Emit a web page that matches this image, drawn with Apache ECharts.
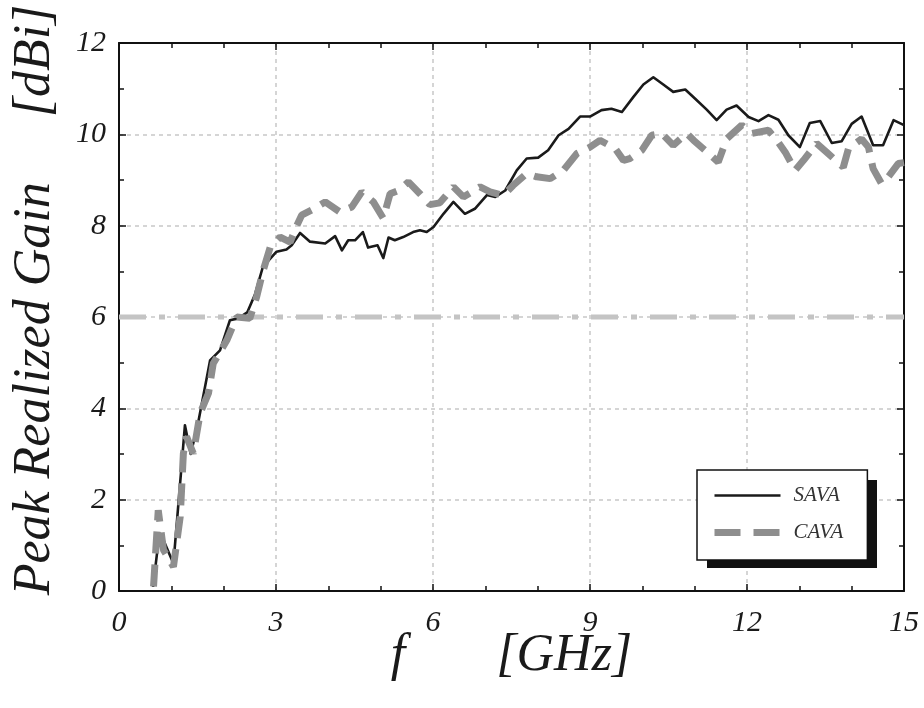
<!DOCTYPE html>
<html>
<head>
<meta charset="utf-8">
<script src="https://cdn.jsdelivr.net/npm/echarts@6/dist/echarts.min.js"></script>
<style>
html,body{margin:0;padding:0;background:#fff;}
#chart{width:924px;height:708px;}
</style>
</head>
<body>
<div id="chart"></div>
<script>
// ---- data ----
var seriesNames = ['SAVA', 'CAVA'];
var savaFreq = [0.65,0.75,0.8,1.04,1.26,1.37,1.51,1.74,1.93,2.12,2.28,2.45,2.6,2.75,2.89,3.01,3.2,3.3,3.46,3.65,3.94,4.13,4.26,4.38,4.51,4.66,4.76,4.94,5.05,5.15,5.27,5.43,5.62,5.75,5.88,6.01,6.2,6.39,6.61,6.8,7.03,7.19,7.38,7.6,7.79,8.01,8.2,8.4,8.59,8.81,9.0,9.22,9.41,9.61,9.83,10.02,10.21,10.4,10.59,10.82,11.01,11.23,11.42,11.61,11.8,12.03,12.22,12.41,12.6,12.79,13.01,13.2,13.4,13.62,13.81,14.0,14.19,14.41,14.6,14.8,15.0];
var savaGain = [0.09,1.05,1.25,0.6,3.63,3.0,3.67,5.05,5.27,5.93,5.97,6.1,6.5,7.1,7.28,7.43,7.48,7.57,7.84,7.65,7.61,7.77,7.46,7.68,7.68,7.86,7.52,7.57,7.29,7.74,7.68,7.75,7.86,7.9,7.86,7.97,8.26,8.52,8.26,8.37,8.67,8.63,8.77,9.21,9.47,9.49,9.65,9.98,10.12,10.39,10.39,10.53,10.56,10.49,10.82,11.09,11.25,11.09,10.93,10.98,10.78,10.54,10.31,10.54,10.63,10.38,10.29,10.42,10.32,9.98,9.72,10.25,10.29,9.81,9.85,10.23,10.39,9.76,9.76,10.31,10.2];
var cavaFreq = [0.66,0.75,0.85,1.04,1.17,1.23,1.29,1.42,1.55,1.71,1.8,2.06,2.25,2.5,2.63,2.75,2.89,3.08,3.27,3.4,3.49,3.68,3.94,4.22,4.45,4.64,4.86,5.05,5.18,5.34,5.53,5.75,5.94,6.13,6.39,6.58,6.9,7.09,7.34,7.53,7.79,7.98,8.24,8.49,8.75,9.0,9.19,9.48,9.64,9.76,9.99,10.18,10.37,10.59,10.85,10.98,11.2,11.45,11.61,11.9,12.09,12.41,12.57,12.73,12.92,13.08,13.33,13.52,13.84,13.94,14.19,14.32,14.41,14.57,14.7,14.89,15.0];
var cavaGain = [0.1,1.77,0.9,0.53,1.63,3.01,3.38,3.01,3.89,4.33,4.98,5.49,6.0,5.97,6.44,7.0,7.53,7.75,7.64,8.01,8.23,8.34,8.52,8.3,8.41,8.74,8.52,8.16,8.7,8.77,8.96,8.7,8.46,8.5,8.85,8.63,8.85,8.74,8.66,8.88,9.14,9.07,9.03,9.21,9.58,9.72,9.87,9.69,9.43,9.47,9.65,9.98,10.02,9.76,10.02,9.87,9.65,9.39,9.9,10.2,10.02,10.09,9.87,9.61,9.21,9.43,9.8,9.61,9.28,9.69,9.9,9.72,9.25,8.92,9.07,9.36,9.38];
var thresholdFreq = [0, 15];
var thresholdGain = [6, 6];
var xTicks = [0, 3, 6, 9, 12, 15];
var yTicks = [0, 2, 4, 6, 8, 10, 12];

function zip(a, b) { return a.map(function (v, i) { return [v, b[i]]; }); }

var serif = '"Liberation Serif", "DejaVu Serif", serif';
var txt = '#1a1a1a';

var chart = echarts.init(document.getElementById('chart'), null, {renderer: 'canvas'});

var gridLine = {show: true, lineStyle: {color: '#c8c8c8', width: 1.5, type: [4, 4]}};
function mainAxis(pos, min, max, interval, minorSplit, name, nameGap, namePad, nameSize, labelMargin) {
  return {
    type: 'value', position: pos, min: min, max: max, interval: interval,
    name: name, nameLocation: 'middle', nameGap: nameGap, nameMoveOverlap: false,
    nameTextStyle: {fontFamily: serif, fontStyle: 'italic', fontSize: nameSize, color: txt, padding: namePad},
    axisLine: {show: true, onZero: false, lineStyle: {color: '#111', width: 2}},
    axisTick: {show: true, inside: true, length: 7, lineStyle: {color: '#111', width: 1.5}},
    minorTick: {show: true, splitNumber: minorSplit, length: 5, lineStyle: {color: '#111', width: 1.5}},
    axisLabel: {show: true, margin: labelMargin, fontFamily: serif, fontStyle: 'italic', fontSize: 30, color: txt},
    splitLine: gridLine
  };
}
function mirrorAxis(pos, min, max, interval, minorSplit) {
  return {
    type: 'value', position: pos, min: min, max: max, interval: interval,
    axisLine: {show: true, onZero: false, lineStyle: {color: '#111', width: 2}},
    axisTick: {show: true, inside: true, length: 7, lineStyle: {color: '#111', width: 1.5}},
    minorTick: {show: true, splitNumber: minorSplit, length: 5, lineStyle: {color: '#111', width: 1.5}},
    axisLabel: {show: false},
    splitLine: {show: false}
  };
}

var xMain = mainAxis('bottom', xTicks[0], xTicks[xTicks.length - 1], 3, 3, 'f       [GHz]', 39, 0, 52, 17);
var yMain = mainAxis('left', yTicks[0], yTicks[yTicks.length - 1], 2, 2, 'Peak Realized Gain     [dBi]', 58, [0, 0, 0, 34], 52, 13);
yMain.nameRotate = 90;

var option = {
  backgroundColor: '#ffffff',
  animation: false,
  grid: {left: 119, right: 20, top: 43, bottom: 117, containLabel: false, outerBoundsMode: 'none'},
  xAxis: [xMain, mirrorAxis('top', 0, 15, 3, 3)],
  yAxis: [yMain, mirrorAxis('right', 0, 12, 2, 2)],
  graphic: [{
    type: 'rect', z: 3, silent: true,
    shape: {x: 707, y: 480, width: 170, height: 88},
    style: {fill: '#111'}
  }],
  legend: {
    z: 5,
    data: [
      {name: seriesNames[0], lineStyle: {color: '#1a1a1a', width: 2.6, type: 'solid'}, itemStyle: {opacity: 0}},
      {name: seriesNames[1], lineStyle: {color: '#8e8e8e', width: 7, type: [26, 13]}, itemStyle: {opacity: 0}}
    ],
    orient: 'vertical',
    left: 697, top: 470,
    itemWidth: 66, itemHeight: 20, itemGap: 16,
    padding: [15, 24, 17, 14],
    backgroundColor: '#ffffff',
    borderColor: '#111', borderWidth: 1.5, borderRadius: 0,
    itemStyle: {opacity: 0},
    textStyle: {fontFamily: serif, fontStyle: 'italic', fontSize: 21, lineHeight: 20, color: '#333', padding: [0, 0, 0, 8]}
  },
  series: [
    {
      name: 'threshold', type: 'line', data: zip(thresholdFreq, thresholdGain),
      showSymbol: false, symbol: 'none', silent: true, z: 1,
      lineStyle: {color: '#c4c4c4', width: 5, type: [27, 13, 6, 13], cap: 'butt'}
    },
    {
      name: seriesNames[0], type: 'line', data: zip(savaFreq, savaGain),
      showSymbol: false, symbol: 'none', z: 2,
      lineStyle: {color: '#1a1a1a', width: 2.6, join: 'round'},
      itemStyle: {color: '#1a1a1a'}
    },
    {
      name: seriesNames[1], type: 'line', data: zip(cavaFreq, cavaGain),
      showSymbol: false, symbol: 'none', z: 3,
      lineStyle: {color: '#8e8e8e', width: 7, type: [22, 11], cap: 'butt'},
      itemStyle: {color: '#8e8e8e'}
    }
  ]
};
chart.setOption(option);
</script>
</body>
</html>
